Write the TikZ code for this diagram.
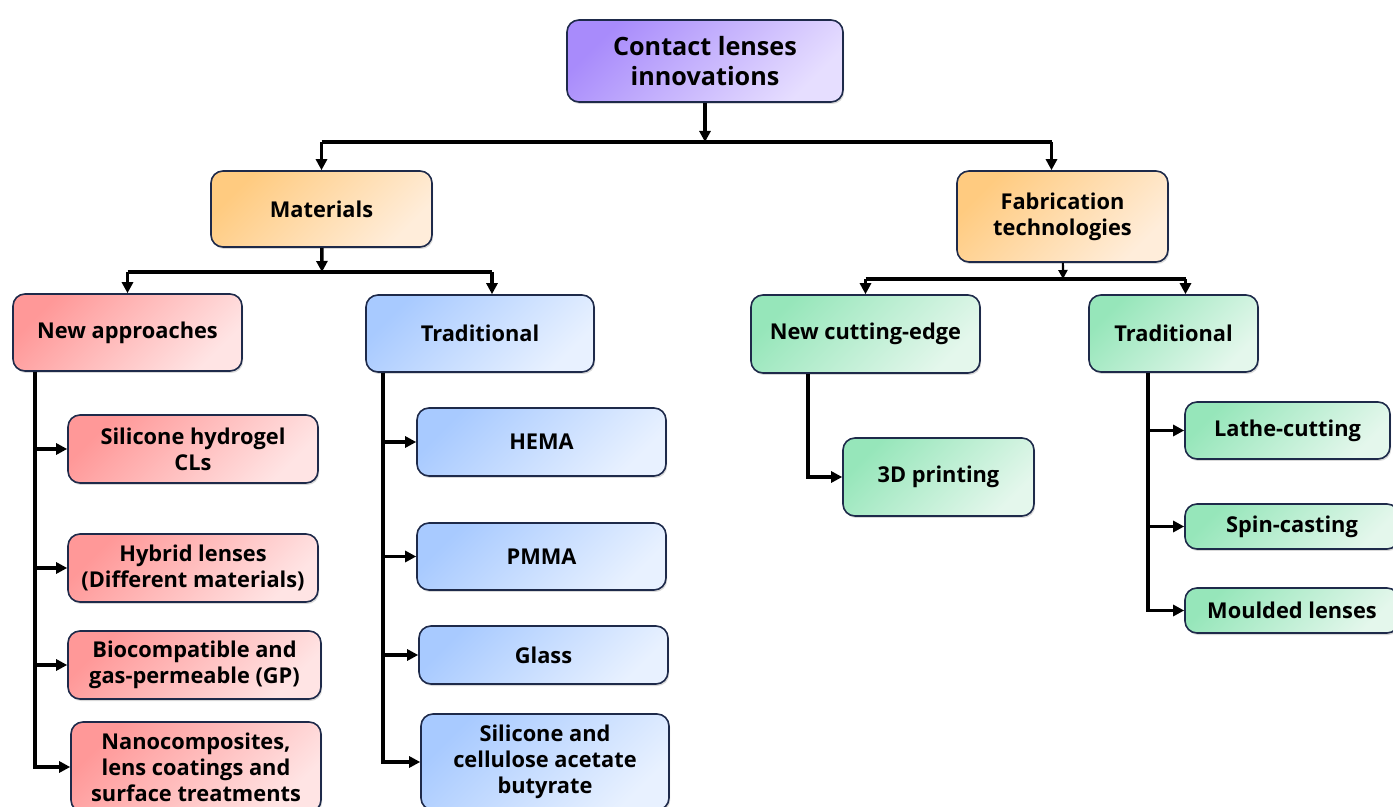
\documentclass[tikz,border=0pt]{standalone}
\usepackage{fontspec}
\setsansfont{Open Sans}
\usetikzlibrary{positioning,arrows.meta,shadows}

\definecolor{edgeblue}{HTML}{1E2A4A}
\definecolor{purpleA}{HTML}{A88BFB}
\definecolor{purpleB}{HTML}{E6DEFF}
\definecolor{orangeA}{HTML}{FFCB80}
\definecolor{orangeB}{HTML}{FFEDDA}
\definecolor{redA}{HTML}{FF9898}
\definecolor{redB}{HTML}{FFE4E4}
\definecolor{blueA}{HTML}{A8CAFF}
\definecolor{blueB}{HTML}{E8F1FF}
\definecolor{greenA}{HTML}{96E6BA}
\definecolor{greenB}{HTML}{E4F7EC}

\begin{document}
\begin{tikzpicture}[
    x=0.5pt, y=-0.5pt,
    every node/.style={font=\sffamily\bfseries\fontsize{10.9}{13}\selectfont},
    box/.style={draw=edgeblue, line width=0.8pt, rounded corners=6pt, align=center, inner sep=2pt,
        shading angle=45, drop shadow={opacity=0.3, shadow xshift=0.6pt, shadow yshift=-1pt}},
    rootbox/.style={box, top color=purpleA, bottom color=purpleB, shading angle=45,
        font=\sffamily\bfseries\fontsize{12.6}{15}\selectfont},
    orangebox/.style={box, top color=orangeA, bottom color=orangeB, shading angle=45},
    redbox/.style={box, top color=redA, bottom color=redB, shading angle=45},
    bluebox/.style={box, top color=blueA, bottom color=blueB, shading angle=45},
    greenbox/.style={box, top color=greenA, bottom color=greenB, shading angle=45},
    bus/.style={line width=1.8pt},
    arr/.style={line width=1.8pt, -{Triangle[length=5.5pt,width=5.5pt]}},
    thinarr/.style={line width=1.1pt, -{Triangle[length=4.5pt,width=4.5pt]}}
]
\useasboundingbox (0,0) rectangle (1393,807);

% top level
\node[rootbox, minimum width=138pt, minimum height=41pt] (root) at (705,61) {Contact lenses\\innovations};
\node[orangebox, minimum width=110.5pt, minimum height=38pt] (mat) at (321.5,209) {Materials};
\node[orangebox, minimum width=105.5pt, minimum height=45.5pt] (fab) at (1062.5,216.5) {Fabrication\\technologies};

% second level
\node[redbox, minimum width=114.5pt, minimum height=38.5pt] (newapp) at (127.5,332.5) {New approaches};
\node[bluebox, minimum width=114pt, minimum height=38.5pt] (tradmat) at (480,333.5) {Traditional};
\node[greenbox, minimum width=114.5pt, minimum height=39pt] (newcut) at (865.5,334) {New cutting-edge};
\node[greenbox, minimum width=84.5pt, minimum height=38.5pt] (tradfab) at (1173.5,333.5) {Traditional};

% new approaches
\node[redbox, minimum width=125pt, minimum height=34pt] (silhyd) at (193,449) {Silicone hydrogel\\CLs};
\node[redbox, minimum width=125pt, minimum height=34pt] (hybrid) at (193,568) {Hybrid lenses\\(Different materials)};
\node[redbox, minimum width=126.5pt, minimum height=34pt] (biocomp) at (194.5,665) {Biocompatible and\\gas-permeable (GP)};
\node[redbox, minimum width=125pt, minimum height=45pt] (nano) at (196,767) {Nanocomposites,\\lens coatings and\\surface treatments};

% traditional materials
\node[bluebox, minimum width=124.5pt, minimum height=34pt] (hema) at (541.5,442) {HEMA};
\node[bluebox, minimum width=124.5pt, minimum height=33.5pt] (pmma) at (541.5,556.5) {PMMA};
\node[bluebox, minimum width=124.5pt, minimum height=29pt] (glass) at (543.5,655) {Glass};
\node[bluebox, minimum width=124pt, minimum height=48pt] (silcab) at (545,762) {Silicone and\\cellulose acetate\\butyrate};

% fabrication
\node[greenbox, minimum width=95.5pt, minimum height=39pt] (print) at (938.5,477) {3D printing};
\node[greenbox, minimum width=102.5pt, minimum height=28.5pt] (lathe) at (1287.5,430.5) {Lathe-cutting};
\node[greenbox, minimum width=107pt, minimum height=22.5pt] (spin) at (1292,526.5) {Spin-casting};
\node[greenbox, minimum width=107pt, minimum height=22.5pt] (mould) at (1292,610.5) {Moulded lenses};

% entry points and buses
\coordinate (fabin) at ([xshift=-5.5pt]fab.north);
\coordinate (tradmatin) at ([xshift=6pt]tradmat.north);
\coordinate (tradfabin) at ([xshift=6pt]tradfab.north);
\coordinate (rootbus) at (705,142);
\coordinate (matbus) at (322,272);
\coordinate (fabbus) at (1063,279);

\draw[arr] (root) -- (rootbus);
\draw[bus] (rootbus -| mat.north) -- (rootbus -| fabin);
\draw[arr] (rootbus -| mat.north) -- (mat.north);
\draw[arr] (rootbus -| fabin) -- (fabin);

\draw[arr] (mat) -- (matbus);
\draw[bus] (matbus -| newapp.north) -- (matbus -| tradmatin);
\draw[arr] (matbus -| newapp.north) -- (newapp.north);
\draw[arr] (matbus -| tradmatin) -- (tradmatin);

\draw[thinarr] (fab) -- (fabbus);
\draw[bus] (fabbus -| newcut.north) -- (fabbus -| tradfabin);
\draw[arr] (fabbus -| newcut.north) -- (newcut.north);
\draw[arr] (fabbus -| tradfabin) -- (tradfabin);

% trunks
\coordinate (newtrunk) at ([xshift=11.5pt]newapp.south west);
\coordinate (oldtrunk) at ([xshift=9pt]tradmat.south west);
\coordinate (cuttrunk) at ([xshift=29pt]newcut.south west);
\coordinate (fabtrunk) at ([xshift=30pt]tradfab.south west);

\foreach \n in {silhyd, hybrid, biocomp, nano}
    \draw[arr] (newtrunk) |- (\n.west);
\foreach \n in {hema, pmma, glass, silcab}
    \draw[arr] (oldtrunk) |- (\n.west);
\draw[arr] (cuttrunk) |- (print.west);
\foreach \n in {lathe, spin, mould}
    \draw[arr] (fabtrunk) |- (\n.west);

\end{tikzpicture}
\end{document}
